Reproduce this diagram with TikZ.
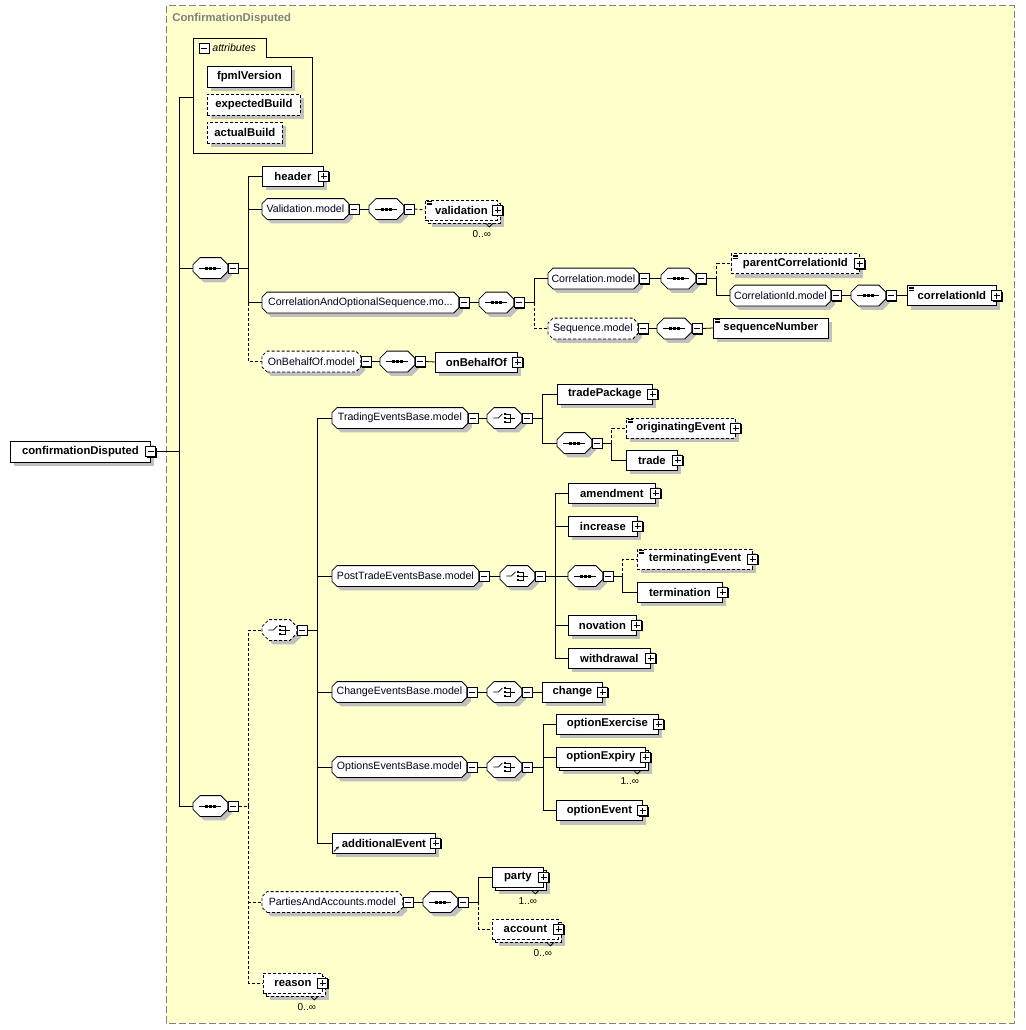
\documentclass[tikz,border=0pt]{standalone}
\usepackage{fontspec}
\setmainfont{Liberation Sans}
\usetikzlibrary{shadows,arrows.meta}
\definecolor{paper}{RGB}{255,255,204}
\definecolor{shade}{RGB}{192,192,192}
\definecolor{frame}{RGB}{128,128,128}
\definecolor{navy}{RGB}{0,0,24}
\newcommand\elfont{\fontsize{11.3}{13}\bfseries\selectfont}
\newcommand\grfont{\fontsize{10.6}{12}\selectfont}
\newcommand\ocfont{\fontsize{10}{12}\selectfont}
% box with cut corners, for model groups and compositors
\makeatletter
\pgfkeys{/pgf/bevel/.initial=5pt}
\pgfdeclareshape{bevelbox}{%
  \inheritsavedanchors[from=rectangle]%
  \inheritanchorborder[from=rectangle]%
  \inheritanchor[from=rectangle]{center}%
  \inheritanchor[from=rectangle]{north}%
  \inheritanchor[from=rectangle]{south}%
  \inheritanchor[from=rectangle]{east}%
  \inheritanchor[from=rectangle]{west}%
  \inheritanchor[from=rectangle]{north east}%
  \inheritanchor[from=rectangle]{north west}%
  \inheritanchor[from=rectangle]{south east}%
  \inheritanchor[from=rectangle]{south west}%
  \inheritanchor[from=rectangle]{text}%
  \inheritanchor[from=rectangle]{base}%
  \inheritanchor[from=rectangle]{mid}%
  \backgroundpath{%
    \southwest \edef\bxl{\the\pgf@x}\edef\bxb{\the\pgf@y}%
    \northeast \edef\bxr{\the\pgf@x}\edef\bxt{\the\pgf@y}%
    \pgfmathsetlengthmacro\bxc{\pgfkeysvalueof{/pgf/bevel}}%
    \pgfpathmoveto{\pgfpoint{\bxl+\bxc}{\bxb}}%
    \pgfpathlineto{\pgfpoint{\bxr-\bxc}{\bxb}}%
    \pgfpathlineto{\pgfpoint{\bxr}{\bxb+\bxc}}%
    \pgfpathlineto{\pgfpoint{\bxr}{\bxt-\bxc}}%
    \pgfpathlineto{\pgfpoint{\bxr-\bxc}{\bxt}}%
    \pgfpathlineto{\pgfpoint{\bxl+\bxc}{\bxt}}%
    \pgfpathlineto{\pgfpoint{\bxl}{\bxt-\bxc}}%
    \pgfpathlineto{\pgfpoint{\bxl}{\bxb+\bxc}}%
    \pgfpathclose}%
}
\makeatother
% occurrence notch and label under a repeated element
\newcommand\occurs[2]{%
  \draw ([xshift=-12pt,yshift=-3pt]#1.south east) -- ++(3.5pt,-3.5pt) -- ++(3.5pt,3.5pt);
  \node[font=\ocfont, inner sep=0pt] (#1-n) at ([xshift=-16pt,yshift=-14pt]#1.south east) {#2};}
\tikzset{
  opt/.style={dash pattern=on 3pt off 2pt},
  base/.style={draw, fill=white, line width=.8pt, inner sep=0pt, minimum height=20pt, anchor=west,
    drop shadow={shadow xshift=4pt, shadow yshift=-4pt, fill=shade, opacity=1}},
  elem/.style={base, rectangle, font=\elfont},
  grp/.style={base, bevelbox, bevel=5pt, font=\grfont, text=navy},
  comp/.style={base, bevelbox, bevel=7pt, minimum width=34pt},
  seq/.style={comp, path picture={
    \begin{scope}[shift={(path picture bounding box.center)}, solid]
      \draw (-11,0) -- (11,0);
      \foreach \d in {-4,0,4} \fill[black] (\d-1.5,-1.5) rectangle (\d+1.5,1.5);
    \end{scope}}},
  choice/.style={comp, path picture={
    \begin{scope}[shift={(path picture bounding box.center)}, solid]
      \draw (-11,0) -- (-6,0) -- (-2,-4);
      \foreach \d in {-4,0,4} \fill[black] (-0.8,\d-1.3) rectangle (1.8,\d+1.3);
      \draw (2,-4) -- (6,-4) -- (6,4) -- (2,4);
      \draw (2,0) -- (11,0);
    \end{scope}}},
  txt/.style={path picture={
    \foreach \d in {1.5,3,4.5}
      \draw[solid, line width=.6pt] ([xshift=1.5pt,yshift=-\d pt]path picture bounding box.north west) -- ++(5pt,0);}},
  subst/.style={path picture={
    \draw[solid, -{Stealth[length=3pt,width=3pt]}] ([xshift=1.5pt,yshift=1.5pt]path picture bounding box.south west) -- ++(5pt,5pt);}},
  multi/.style={drop shadow={shadow xshift=7pt, shadow yshift=-7pt, fill=shade, opacity=1},
    copy shadow={shadow xshift=3pt, shadow yshift=-3pt, draw=black, fill=white, #1}},
  multi/.default=solid,
  mbox/.style={draw, fill=white, rectangle, minimum size=10pt, inner sep=0pt, line width=.8pt, solid,
    drop shadow={shadow xshift=1.2pt, shadow yshift=-1.2pt, fill=black, opacity=1},
    path picture={\draw ([xshift=-3pt]path picture bounding box.center) -- ([xshift=3pt]path picture bounding box.center);}},
  pbox/.style={mbox, path picture={
    \draw ([xshift=-3pt]path picture bounding box.center) -- ([xshift=3pt]path picture bounding box.center);
    \draw ([yshift=-3pt]path picture bounding box.center) -- ([yshift=3pt]path picture bounding box.center);}},
}
\begin{document}
\begin{tikzpicture}[x=1pt, y=-1pt, line width=.8pt]
\useasboundingbox (0,0) rectangle (1025,1030);
\draw[frame, line width=1pt, dash pattern=on 7pt off 3pt, fill=paper] (166,6) rectangle (1014,1023);
\node[anchor=west, font=\elfont, text=frame, inner sep=0pt] (title) at (172,19) {ConfirmationDisputed};

% attributes
\draw (193,153) -- (193,38) -- (266,38) -- (266,57) -- (312,57) -- (312,153) -- cycle;
\node[mbox] (attr-m) at (204,48) {};
\node[anchor=west, font=\grfont\itshape, inner sep=0pt] (attrs) at (212,48) {attributes};
\coordinate (attr) at (193,97);
\node[elem, minimum width=84pt, minimum height=21pt] (fpml) at (207,76.5) {fpmlVersion};
\node[elem, opt, minimum width=93pt, minimum height=21pt] (expb) at (207,104.5) {expectedBuild};
\node[elem, opt, minimum width=75pt, minimum height=21pt] (actb) at (207,132.5) {actualBuild};

\node[elem, minimum width=140pt, minimum height=21pt] (root) at (10,451.5) {confirmationDisputed};

% first sequence
\node[seq] (s1) at (193,268) {};
\node[elem, minimum width=61pt] (hdr) at (262,176) {header};
\node[grp, minimum width=86pt] (valm) at (262,209) {Validation.model};
\node[seq] (valseq) at (369,209) {};
\node[elem, opt, multi=opt, txt, minimum width=72pt] (val) at (425,210) {validation};
\node[grp, minimum width=196pt] (corm) at (262,302.5) {CorrelationAndOptionalSequence.mo...};
\node[seq] (corseq) at (479,302.5) {};
\node[grp, minimum width=90pt] (cmod) at (548,278.5) {Correlation.model};
\node[seq] (cseq) at (661,278.5) {};
\node[elem, opt, txt, minimum width=128pt] (pcid) at (731,263.5) {parentCorrelationId};
\node[grp, minimum width=100pt] (cidm) at (730,295.5) {CorrelationId.model};
\node[seq] (cidseq) at (851,295.5) {};
\node[elem, txt, minimum width=89pt] (cid) at (907,295.5) {correlationId};
\node[grp, opt, minimum width=89pt] (smod) at (548,328.5) {Sequence.model};
\node[seq] (sseq) at (657,328.5) {};
\node[elem, txt, minimum width=115pt] (snum) at (713,328) {sequenceNumber};
\node[grp, opt, minimum width=98pt] (obm) at (262,361.5) {OnBehalfOf.model};
\node[seq] (obseq) at (380,361.5) {};
\node[elem, minimum width=82pt] (obo) at (435,362) {onBehalfOf};

% second sequence
\node[seq] (s2) at (193,806) {};
\node[choice, opt] (cho) at (262,630) {};
\node[grp, minimum width=135pt] (tem) at (332,418) {TradingEventsBase.model};
\node[choice] (tcho) at (487,418) {};
\node[elem, minimum width=95pt] (tpk) at (557,394) {tradePackage};
\node[seq] (tseq) at (557,443) {};
\node[elem, opt, txt, minimum width=109pt] (orig) at (626,428) {originatingEvent};
\node[elem, minimum width=51pt] (trd) at (626,460) {trade};
\node[grp, minimum width=146pt] (ptm) at (332,576) {PostTradeEventsBase.model};
\node[choice] (pcho) at (500,576) {};
\node[elem, minimum width=87pt] (amd) at (568,493) {amendment};
\node[elem, minimum width=69pt] (inc) at (568,526) {increase};
\node[seq] (pseq) at (568,576) {};
\node[elem, opt, txt, minimum width=115pt] (term) at (637,559) {terminatingEvent};
\node[elem, minimum width=85pt] (trm) at (637,592) {termination};
\node[elem, minimum width=68pt] (nov) at (568,625) {novation};
\node[elem, minimum width=82pt] (wdr) at (568,658) {withdrawal};
\node[grp, minimum width=134pt] (cem) at (332,692) {ChangeEventsBase.model};
\node[choice] (ccho) at (487,692) {};
\node[elem, minimum width=60pt] (chg) at (542,692) {change};
\node[grp, minimum width=134pt] (oem) at (332,767) {OptionsEventsBase.model};
\node[choice] (ocho) at (487,767) {};
\node[elem, minimum width=102pt] (oex) at (556,724) {optionExercise};
\node[elem, multi, minimum width=89pt] (oexp) at (556,757) {optionExpiry};
\node[elem, minimum width=86pt] (oev) at (556,810.5) {optionEvent};
\node[elem, subst, minimum width=103pt] (add) at (332,843) {additionalEvent};
\node[grp, opt, minimum width=140pt] (pam) at (262,902) {PartiesAndAccounts.model};
\node[seq] (paseq) at (423,902) {};
\node[elem, multi, minimum width=51pt] (pty) at (492,877) {party};
\node[elem, opt, multi=opt, minimum width=66pt] (acc) at (492,929) {account};
\node[elem, opt, multi=opt, minimum width=59pt] (rsn) at (263,983) {reason};

% collapse and expand buttons
\node[mbox] (root-m) at (root.east) {};
\foreach \n in {s1,s2,valm,valseq,corm,corseq,cmod,cseq,cidm,cidseq,smod,sseq,obm,obseq,
  cho,tem,tcho,tseq,ptm,pcho,pseq,cem,ccho,oem,ocho,pam,paseq}
  \node[mbox, anchor=west] (\n-m) at (\n.east) {};
\foreach \n in {hdr,val,pcid,cid,obo,tpk,orig,trd,amd,inc,term,trm,nov,wdr,
  chg,oex,oexp,oev,add,pty,acc,rsn}
  \node[pbox] (\n-p) at (\n.east) {};

\occurs{val}{0..∞}
\occurs{oexp}{1..∞}
\occurs{pty}{1..∞}
\occurs{acc}{0..∞}
\occurs{rsn}{0..∞}

% connectors
\draw (root-m.east) -- ++(23,0) coordinate (tk);
\draw (tk) |- (attr);
\draw (tk) |- (s1.west);
\draw (tk) |- (s2.west);

\draw (s1-m.east) -- ++(10,0) coordinate (b1);
\draw (b1) |- (hdr.west);
\draw (b1) |- (valm.west);
\draw (b1) |- (corm.west);
\draw[opt] (b1) |- (obm.west);
\draw (valm-m.east) -- (valseq.west);
\draw[opt] (valseq-m.east) -- (val.west);
\draw (corm-m.east) -- (corseq.west);
\draw (corseq-m.east) -- ++(10,0) coordinate (b2);
\draw (b2) |- (cmod.west);
\draw[opt] (b2) |- (smod.west);
\draw (cmod-m.east) -- (cseq.west);
\draw (cseq-m.east) -- ++(10,0) coordinate (b3);
\draw[opt] (b3) |- (pcid.west);
\draw (b3) |- (cidm.west);
\draw (cidm-m.east) -- (cidseq.west);
\draw (cidseq-m.east) -- (cid.west);
\draw (smod-m.east) -- (sseq.west);
\draw (sseq-m.east) -- (snum.west);
\draw (obm-m.east) -- (obseq.west);
\draw (obseq-m.east) -- (obo.west);

\draw[opt] (s2-m.east) -- ++(10,0) coordinate (b4);
\draw[opt] (b4) |- (cho.west);
\draw[opt] (b4) |- (pam.west);
\draw[opt] (b4) |- (rsn.west);
\draw (cho-m.east) -- ++(10,0) coordinate (b5);
\foreach \n in {tem,ptm,cem,oem,add} \draw (b5) |- (\n.west);
\draw (tem-m.east) -- (tcho.west);
\draw (tcho-m.east) -- ++(10,0) coordinate (b6);
\draw (b6) |- (tpk.west);
\draw (b6) |- (tseq.west);
\draw (tseq-m.east) -- ++(9,0) coordinate (b7);
\draw[opt] (b7) |- (orig.west);
\draw (b7) |- (trd.west);
\draw (ptm-m.east) -- (pcho.west);
\draw (pcho-m.east) -- ++(10,0) coordinate (b8);
\foreach \n in {amd,inc,pseq,nov,wdr} \draw (b8) |- (\n.west);
\draw (pseq-m.east) -- ++(9,0) coordinate (b9);
\draw[opt] (b9) |- (term.west);
\draw (b9) |- (trm.west);
\draw (cem-m.east) -- (ccho.west);
\draw (ccho-m.east) -- (chg.west);
\draw (oem-m.east) -- (ocho.west);
\draw (ocho-m.east) -- ++(11,0) coordinate (b10);
\foreach \n in {oex,oexp,oev} \draw (b10) |- (\n.west);
\draw (pam-m.east) -- (paseq.west);
\draw (paseq-m.east) -- ++(10,0) coordinate (b11);
\draw (b11) |- (pty.west);
\draw[opt] (b11) |- (acc.west);
\end{tikzpicture}
\end{document}
